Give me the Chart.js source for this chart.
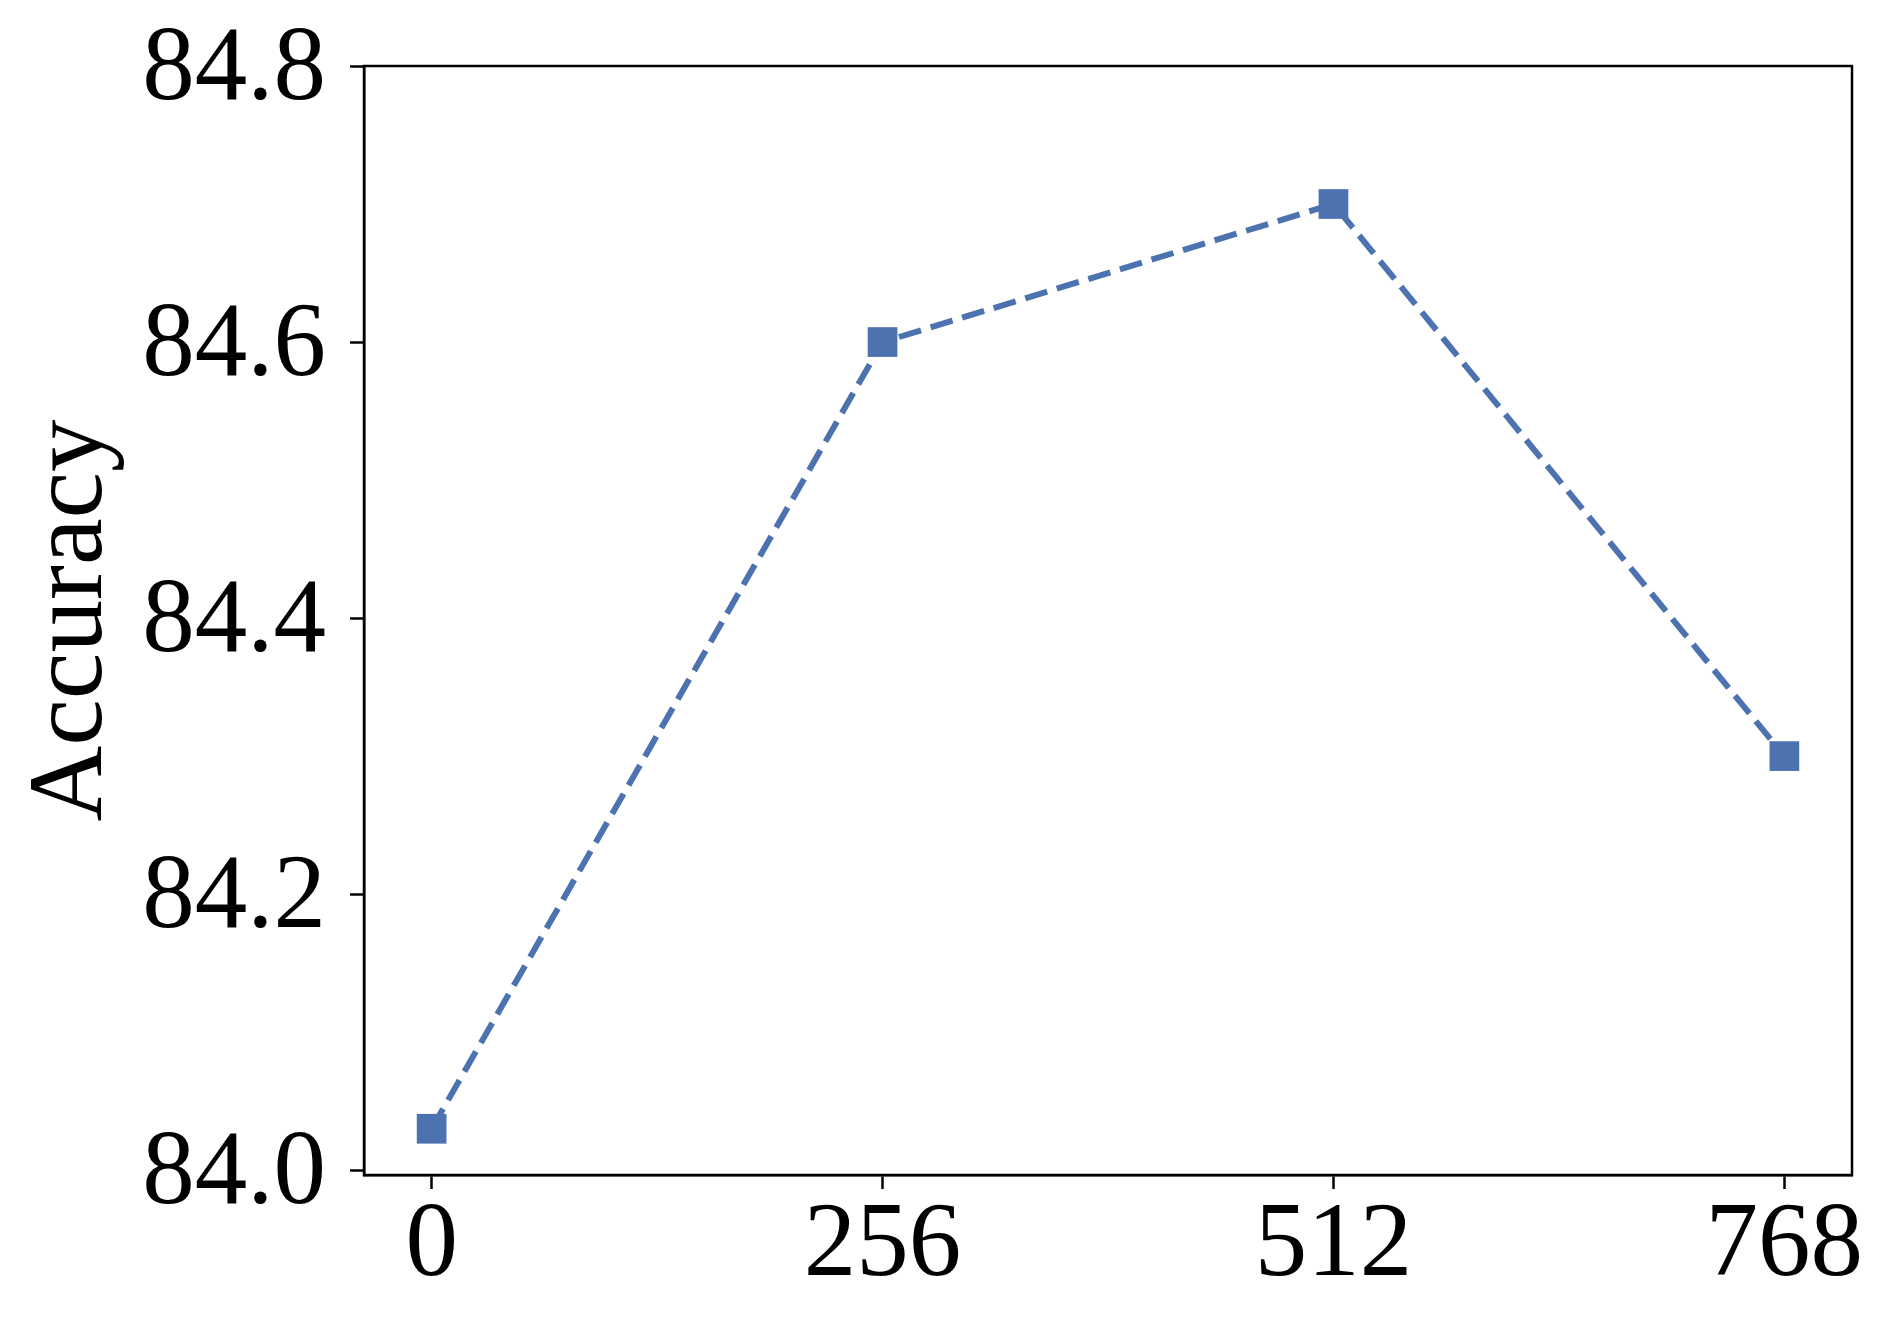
<!DOCTYPE html>
<html>
<head>
<meta charset="utf-8">
<script src="https://cdn.jsdelivr.net/npm/chart.js@4/dist/chart.umd.min.js"></script>
<style>
html,body{margin:0;padding:0;background:#fff;}
#wrap{width:1895px;height:1331px;position:relative;}
</style>
</head>
<body>
<div id="wrap"><canvas id="c" width="1895" height="1331"></canvas></div>
<script>
const xValues = [0, 256, 512, 768];
const accuracy = [84.03, 84.60, 84.70, 84.30];
const xTickValues = [0, 256, 512, 768];
const xTickLabels = ['0', '256', '512', '768'];
const yTickValues = [84.0, 84.2, 84.4, 84.6, 84.8];
const yTickLabels = ['84.0', '84.2', '84.4', '84.6', '84.8'];
const yTitle = 'Accuracy';

const FONT = '"Liberation Serif", "Times New Roman", Tinos, Times, serif';
const BLUE = '#4C72B0';

const framePlugin = {
  id: 'frame',
  afterDatasetsDraw(chart) {
    const a = chart.chartArea, ctx = chart.ctx;
    ctx.save();
    ctx.strokeStyle = '#000';
    ctx.lineWidth = 2.5;
    ctx.strokeRect(a.left, a.top, a.right - a.left, a.bottom - a.top);
    ctx.restore();
  }
};

function build() {
  new Chart(document.getElementById('c'), {
    type: 'line',
    data: {
      datasets: [{
        data: xValues.map((x, i) => ({x: x, y: accuracy[i]})),
        borderColor: BLUE,
        backgroundColor: BLUE,
        borderWidth: 6,
        borderDash: [23, 10],
        pointStyle: 'rect',
        pointRadius: 21,
        pointBorderWidth: 0,
        pointBackgroundColor: BLUE,
        tension: 0,
        fill: false
      }]
    },
    options: {
      responsive: false,
      animation: false,
      layout: {padding: {top: 66, right: 43, left: 0, bottom: 0}},
      plugins: {legend: {display: false}, tooltip: {enabled: false}},
      scales: {
        x: {
          type: 'linear',
          min: -38.4,
          max: 806.4,
          afterBuildTicks(scale) { scale.ticks = xTickValues.map(v => ({value: v})); },
          afterFit(scale) { scale.height = 156; scale.paddingLeft = 0; scale.paddingRight = 0; },
          ticks: {
            callback: (v) => xTickLabels[xTickValues.indexOf(v)],
            font: {family: FONT, size: 105},
            color: '#000',
            padding: -5,
            maxRotation: 0,
            autoSkip: false
          },
          grid: {drawOnChartArea: false, tickLength: 14, tickWidth: 2.5, tickColor: '#000'},
          border: {display: true, color: '#000', width: 2.5}
        },
        y: {
          type: 'linear',
          min: 83.9965,
          max: 84.8,
          afterBuildTicks(scale) { scale.ticks = yTickValues.map(v => ({value: v})); },
          afterFit(scale) { scale.width = 364; scale.paddingTop = 0; scale.paddingBottom = 0; },
          ticks: {
            callback: (v) => { const i = yTickValues.findIndex(t => Math.abs(t - v) < 1e-6); return i >= 0 ? yTickLabels[i] : ''; },
            font: {family: FONT, size: 105},
            color: '#000',
            padding: 24,
            labelOffset: 5,
            autoSkip: false
          },
          grid: {drawOnChartArea: false, tickLength: 14, tickWidth: 2.5, tickColor: '#000'},
          border: {display: true, color: '#000', width: 2.5},
          title: {
            display: true,
            text: yTitle,
            font: {family: FONT, size: 105},
            color: '#000',
            padding: {top: 10, bottom: 0}
          }
        }
      }
    },
    plugins: [framePlugin]
  });
}

if (document.fonts && document.fonts.load) {
  document.fonts.load('105px "Liberation Serif"').then(build, build);
} else {
  build();
}
</script>
</body>
</html>
